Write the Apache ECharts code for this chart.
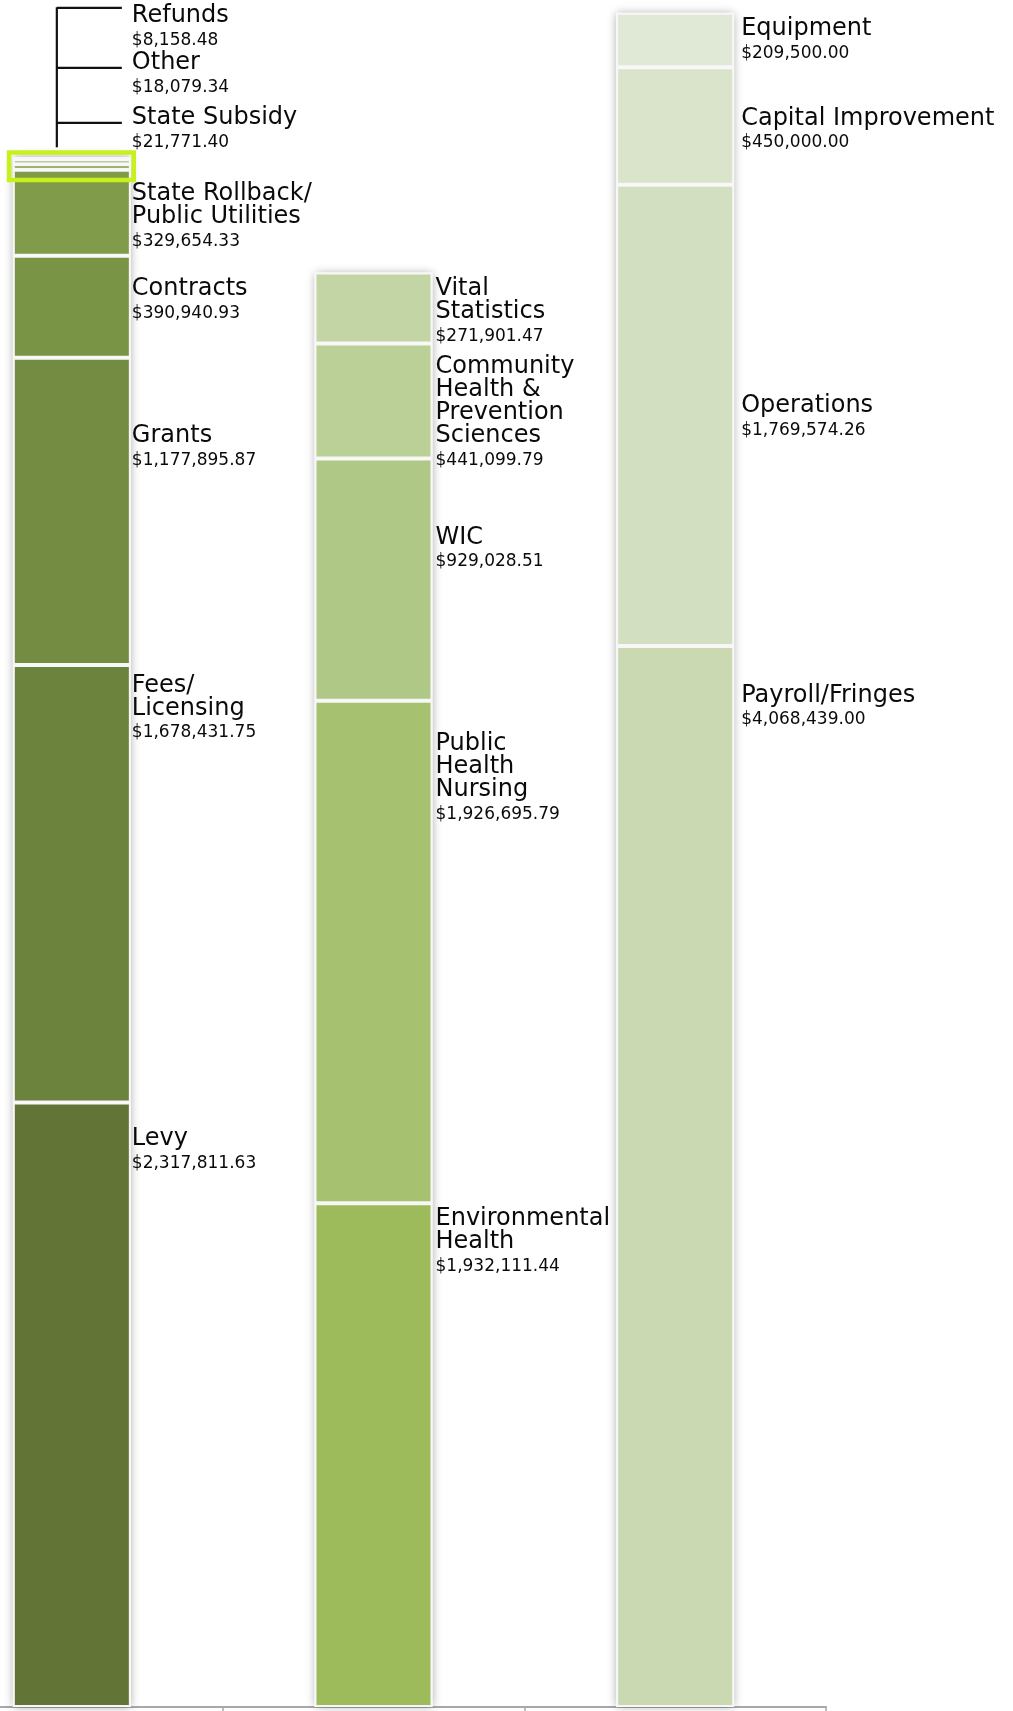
<!DOCTYPE html>
<html>
<head>
<meta charset="utf-8">
<script src="https://cdn.jsdelivr.net/npm/echarts@6/dist/echarts.min.js"></script>
<style>
  html, body { margin: 0; padding: 0; background: #fff; }
  #chart { width: 1013px; height: 1711px; }
</style>
</head>
<body>
<div id="chart"></div>
<script>
// ---- data ----
const categories = ['Revenue', 'Expenditures by Program', 'Expenditures by Type'];

const revenueNames = ['Levy', 'Fees/\nLicensing', 'Grants', 'Contracts', 'State Rollback/\nPublic Utilities', 'State Subsidy', 'Other', 'Refunds'];
const revenueValues = [2317811.63, 1678431.75, 1177895.87, 390940.93, 329654.33, 21771.40, 18079.34, 8158.48];

const programNames = ['Environmental\nHealth', 'Public\nHealth\nNursing', 'WIC', 'Community\nHealth &\nPrevention\nSciences', 'Vital\nStatistics'];
const programValues = [1932111.44, 1926695.79, 929028.51, 441099.79, 271901.47];

const typeNames = ['Payroll/Fringes', 'Operations', 'Capital Improvement', 'Equipment'];
const typeValues = [4068439.00, 1769574.26, 450000.00, 209500.00];

// ---- styles (colours, label placement) ----
const revenueColors = ['#627536', '#6b833d', '#738c42', '#7a9446', '#809b49', '#809b49', '#809b49', '#809b49'];
const programColors = ['#9dbb5a', '#a6c170', '#b0c886', '#bad096', '#c3d4a5'];
const typeColors = ['#cad9b2', '#d2dfc0', '#d9e4ca', '#e0e9d5'];

// vertical placement of each label's first line, relative to the top of its segment (px)
const revenueLabelDy = [34, 18, 76, 30.5, 21.5, -49, -99, -144];
const programLabelDy = [13, 41, 76.5, 21, 14];
const typeLabelDy = [47, 218.5, 48.5, 14];
const groupLabelDx = [1, 3, 7];

const FONT = 'DejaVu Sans';
const BAR_W = 118;

function money(v) {
  return '$' + v.toLocaleString('en-US', { minimumFractionDigits: 2, maximumFractionDigits: 2 });
}

const series = [];
const groups = [
  { names: revenueNames, values: revenueValues, colors: revenueColors, dy: revenueLabelDy },
  { names: programNames, values: programValues, colors: programColors, dy: programLabelDy },
  { names: typeNames, values: typeValues, colors: typeColors, dy: typeLabelDy }
];

const totals = groups.map(g => g.values.reduce((a, b) => a + b, 0));

// shadow / backing column
series.push({
  type: 'bar',
  name: 'total',
  data: totals,
  barWidth: BAR_W,
  barGap: '-100%',
  silent: true,
  z: 1,
  itemStyle: { color: '#ffffff', shadowBlur: 9, shadowColor: 'rgba(0,0,0,0.35)' },
  label: { show: false }
});

groups.forEach((g, gi) => {
  g.names.forEach((nm, i) => {
    const data = categories.map((c, ci) => ci === gi ? g.values[i] : '-');
    const lines = nm.split('\n').map(s => '{n|' + s + '}').join('\n');
    const text = lines + '\n{v|' + money(g.values[i]) + '}';
    series.push({
      type: 'bar',
      name: nm.replace(/\n/g, ' '),
      stack: 'all',
      barWidth: BAR_W,
      barGap: '-100%',
      z: 2,
      data: data,
      itemStyle: { color: g.colors[i], borderColor: '#f7f7f7', borderWidth: 2 },
      label: {
        show: true,
        position: ['100%', g.dy[i] - 9],
        offset: [groupLabelDx[gi], 0],
        align: 'left',
        verticalAlign: 'top',
        formatter: () => text,
        rich: {
          n: { fontFamily: FONT, fontSize: 24, lineHeight: 23, color: '#0a0a0a' },
          v: { fontFamily: FONT, fontSize: 17, lineHeight: 26, color: '#0a0a0a' }
        }
      },
      emphasis: { disabled: true }
    });
  });
});

const chart = echarts.init(document.getElementById('chart'), null, { renderer: 'canvas' });
chart.setOption({
  animation: false,
  backgroundColor: '#ffffff',
  grid: { left: -79, right: 187, top: 12, bottom: 4, containLabel: false, outerBoundsMode: 'none' },
  xAxis: {
    type: 'category',
    data: categories,
    axisLine: { show: true, lineStyle: { color: '#a8a8a8', width: 2 } },
    axisTick: { show: true, length: 6, lineStyle: { color: '#a8a8a8', width: 1.5 } },
    axisLabel: { show: false },
    splitLine: { show: false }
  },
  yAxis: {
    type: 'value',
    min: 0,
    max: 6500000,
    show: false,
    splitLine: { show: false }
  },
  series: series
});

// annotations: bracket for the tiny revenue items and the highlight box
const top1 = chart.convertToPixel({ gridIndex: 0 }, [categories[0], totals[0]]);
const cx = top1[0], ty = top1[1];
const bx = cx - 15;
const lineStyle = { stroke: '#111111', lineWidth: 2.2 };
chart.setOption({
  graphic: [
    { type: 'line', shape: { x1: bx, y1: ty - 150, x2: bx, y2: ty - 10 }, style: lineStyle, z: 10 },
    { type: 'line', shape: { x1: bx, y1: ty - 149.4, x2: cx + 50, y2: ty - 149.4 }, style: lineStyle, z: 10 },
    { type: 'line', shape: { x1: bx, y1: ty - 89.4, x2: cx + 50, y2: ty - 89.4 }, style: lineStyle, z: 10 },
    { type: 'line', shape: { x1: bx, y1: ty - 34.4, x2: cx + 50, y2: ty - 34.4 }, style: lineStyle, z: 10 },
    { type: 'rect', shape: { x: cx - 62.8, y: ty - 4.7, width: 124.7, height: 27.5 },
      style: { fill: null, stroke: '#c6f11d', lineWidth: 4.5 }, z: 10 }
  ]
});
</script>
</body>
</html>
